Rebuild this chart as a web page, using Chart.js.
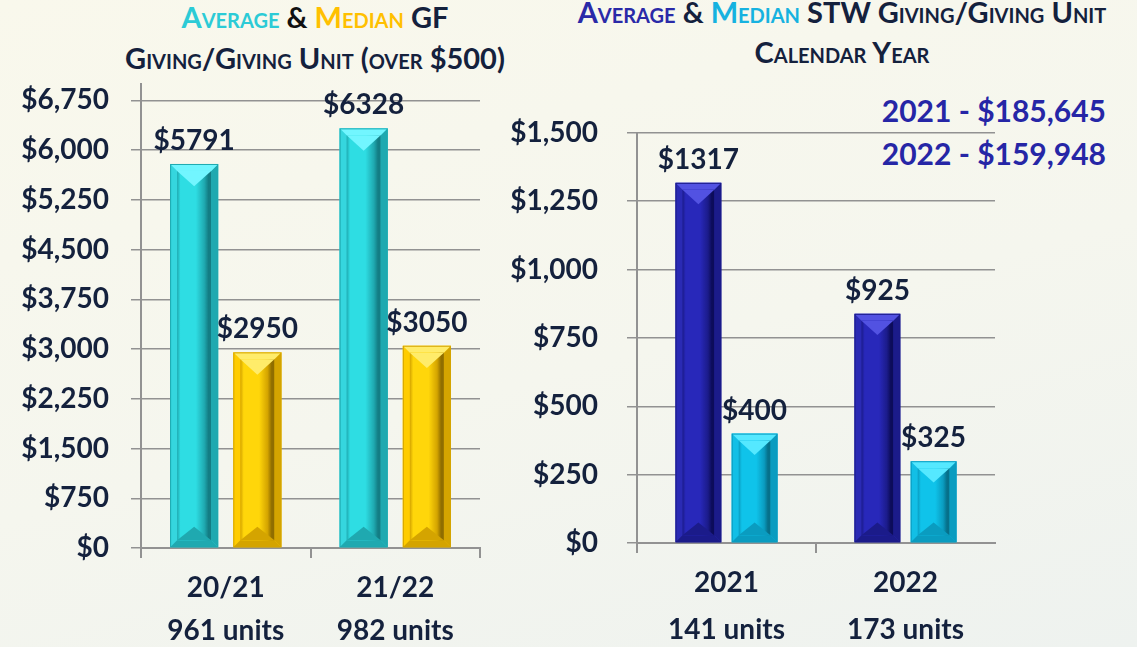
<!DOCTYPE html>
<html>
<head>
<meta charset="utf-8">
<script src="https://cdn.jsdelivr.net/npm/chart.js@4.4.1/dist/chart.umd.min.js"></script>
<style>
  html, body { margin: 0; padding: 0; }
  body {
    width: 1137px; height: 647px; overflow: hidden; position: relative;
    background: linear-gradient(165deg, #f9f8ec 0%, #f5f6ee 55%, #eef2ef 100%);
    font-family: Lato, "Open Sans", sans-serif; color: #14213d;
  }
  .title {
    position: absolute; text-align: center; font-weight: bold;
    font-variant: small-caps; font-size: 29px; white-space: nowrap;
  }
  #title-gf { left: 0; width: 630px; top: -4px; line-height: 41px; }
  #title-stw { left: 547px; width: 590px; top: -8px; line-height: 40px; }
  #totals {
    position: absolute; left: 700px; width: 406px; top: 89px;
    text-align: right; font-weight: bold; font-size: 30px; line-height: 43px; color: #2626a6;
  }
  canvas { position: absolute; }
  #gf-chart { left: 0; top: 45px; }
  #stw-chart { left: 495px; top: 87px; }
</style>
</head>
<body>

<div class="title" id="title-gf">
  <span style="color:#2ccbd6">Average</span> <span style="color:#111">&amp;</span>
  <span style="color:#ffc000">Median</span> GF<br>Giving/Giving Unit (over $500)
</div>
<div class="title" id="title-stw">
  <span style="color:#2a2aa8">Average</span> &amp;
  <span style="color:#16b2e0">Median</span> STW Giving/Giving Unit<br>Calendar Year
</div>
<div id="totals"></div>

<canvas id="gf-chart" width="490" height="602"></canvas>
<canvas id="stw-chart" width="510" height="560"></canvas>

<script>

/* DATA: GF giving per giving unit (fiscal years) */
const gfYears = ['20/21', '21/22'];
const gfUnits = ['961 units', '982 units'];
const gfAverage = [5791, 6328];
const gfMedian = [2950, 3050];
const gfAverageText = ['$5791', '$6328'];
const gfMedianText = ['$2950', '$3050'];
const gfTicks = [0, 750, 1500, 2250, 3000, 3750, 4500, 5250, 6000, 6750];
const gfMax = 7000;

/* DATA: STW giving per giving unit (calendar years) */
const stwYears = ['2021', '2022'];
const stwUnits = ['141 units', '173 units'];
const stwAverage = [1317, 838];
const stwMedian = [400, 299];
const stwAverageText = ['$1317', '$925'];
const stwMedianText = ['$400', '$325'];
const stwTotals = ['2021 - $185,645', '2022 - $159,948'];
const stwTicks = [0, 250, 500, 750, 1000, 1250, 1500];
const stwMax = 1500;

document.getElementById('totals').innerHTML = stwTotals.join('<br>');

const navy = '#14213d';
const gridGray = '#929292';

const shades = {
  teal: { frame: '#35d6de', light: '#72f6ff', mid: '#2edde3', dark: '#137d84', edge: '#1fa9b0' },
  gold: { frame: '#ffcc00', light: '#ffec6a', mid: '#ffd60a', dark: '#8f6d00', edge: '#d4a400' },
  navy: { frame: '#2a2ab4', light: '#5252e2', mid: '#2828ba', dark: '#0c0c5a', edge: '#1b1b8a' },
  sky:  { frame: '#12bfe6', light: '#55e8ff', mid: '#0fc3ea', dark: '#06708a', edge: '#0a9cc0' }
};

function poly(ctx, pts, fill) {
    ctx.beginPath();
    ctx.moveTo(pts[0][0], pts[0][1]);
    for (let k = 1; k < pts.length; k++) ctx.lineTo(pts[k][0], pts[k][1]);
    ctx.closePath();
    ctx.fillStyle = fill;
    ctx.fill();
}

// bevelled bars + value labels, drawn on the bar elements the chart laid out
const bevelPlugin = {
  id: 'bevel',
  afterDatasetsDraw(chart) {
    const ctx = chart.ctx;
    ctx.save();
    chart.data.datasets.forEach((ds, i) => {
      const meta = chart.getDatasetMeta(i);
      const c = ds.shade;
      meta.data.forEach((bar, j) => {
        const x0 = bar.x - bar.width / 2, x1 = bar.x + bar.width / 2;
        const top = bar.y, bottom = bar.base, cx = bar.x;
        const e = 7;
        const iw = x1 - x0 - 2 * e;
        // outer frame sides
        poly(ctx, [[x0, top], [x0 + e, top + e], [x0 + e, bottom - e], [x0, bottom]], c.frame);
        poly(ctx, [[x1, top], [x1 - e, top + e], [x1 - e, bottom - e], [x1, bottom]], c.edge);
        poly(ctx, [[x0, top], [x1, top], [x1 - e, top + e], [x0 + e, top + e]], c.light);
        poly(ctx, [[x0, bottom], [x1, bottom], [x1 - e, bottom - e], [x0 + e, bottom - e]], c.edge);
        // inner panel
        const g = ctx.createLinearGradient(x0 + e, 0, x1 - e, 0);
        g.addColorStop(0, c.edge);
        g.addColorStop(0.1, c.mid);
        g.addColorStop(0.55, c.mid);
        g.addColorStop(0.8, c.edge);
        g.addColorStop(0.92, c.dark);
        g.addColorStop(1, c.dark);
        ctx.fillStyle = g;
        ctx.fillRect(x0 + e, top + e, iw, bottom - top - 2 * e);
        // top notch + bottom notch
        poly(ctx, [[x0 + e, top + e], [x1 - e, top + e], [cx, top + e + iw * 0.45]], c.light);
        poly(ctx, [[x0 + e, bottom - e], [x1 - e, bottom - e], [cx, bottom - e - iw * 0.4]], c.edge);
        ctx.strokeStyle = c.edge;
        ctx.lineWidth = 1;
        ctx.strokeRect(x0 + 0.5, top + 0.5, x1 - x0 - 1, bottom - top - 1);
        // value label
        ctx.fillStyle = navy;
        ctx.font = 'bold 28px Lato, "Open Sans", sans-serif';
        ctx.textAlign = 'center';
        ctx.textBaseline = 'middle';
        ctx.fillText(ds.valueText[j], cx, top - 23);
      });
    });
    ctx.restore();
  }
};

function money(v) {
    return '$' + Number(v).toLocaleString('en-US');
}

function makeChart(id, cfg) {
  const ctx = document.getElementById(id).getContext('2d');
  return new Chart(ctx, {
    type: 'bar',
    data: {
        labels: cfg.years.map((y, i) => [y, cfg.units[i]]),
        datasets: [{
            label: 'Average',
            data: cfg.average,
            valueText: cfg.averageText,
            shade: cfg.avgShade,
            backgroundColor: cfg.avgShade.frame,
            borderWidth: 0,
            barPercentage: cfg.barPct,
            categoryPercentage: cfg.catPct
        }, {
            label: 'Median',
            data: cfg.median,
            valueText: cfg.medianText,
            shade: cfg.medShade,
            backgroundColor: cfg.medShade.frame,
            borderWidth: 0,
            barPercentage: cfg.barPct,
            categoryPercentage: cfg.catPct
        }]
    },
    plugins: [bevelPlugin],
    options: {
        responsive: false,
        animation: false,
        layout: { padding: { top: 0, right: 10, left: 0, bottom: 0 } },
        plugins: {
            legend: { display: false },
            tooltip: { enabled: false }
        },
        scales: {
            x: {
                afterFit: s => { s.height = cfg.xHeight; },
                grid: {
                    drawOnChartArea: false,
                    tickLength: 10,
                    lineWidth: 2,
                    color: c => (c.index === undefined && cfg.hideLastTick) ? 'rgba(0,0,0,0)' : gridGray
                },
                border: { color: gridGray, width: 2 },
                ticks: {
                    color: navy,
                    padding: cfg.xPad,
                    maxRotation: 0,
                    autoSkip: false,
                    font: { family: 'Lato', size: 28, weight: 'bold', lineHeight: cfg.xLine }
                }
            },
            y: {
                min: 0,
                max: cfg.max,
                afterFit: s => { s.width = cfg.yWidth; },
                afterBuildTicks: s => { s.ticks = cfg.ticks.map(v => ({ value: v })); },
                grid: { color: gridGray, lineWidth: 1.5, tickLength: 10 },
                border: { color: gridGray, width: 2 },
                ticks: {
                    autoSkip: false,
                    color: navy,
                    padding: cfg.yPad,
                    callback: v => money(v),
                    font: { family: 'Lato', size: 28, weight: 'bold' }
                }
            }
        }
    }
  });
}

/* LEFT: GF giving */
const gfChart = makeChart('gf-chart', {
    years: gfYears, units: gfUnits,
    average: gfAverage, median: gfMedian,
    averageText: gfAverageText, medianText: gfMedianText,
    avgShade: shades.teal, medShade: shades.gold,
    max: gfMax, ticks: gfTicks,
    barPct: 0.76, catPct: 0.746,
    yWidth: 141, yPad: 22,
    xHeight: 99, xPad: 8, xLine: 1.54,
    hideLastTick: false
});

/* RIGHT: STW giving */
const stwChart = makeChart('stw-chart', {
    years: stwYears, units: stwUnits,
    average: stwAverage, median: stwMedian,
    averageText: stwAverageText, medianText: stwMedianText,
    avgShade: shades.navy, medShade: shades.sky,
    max: stwMax, ticks: stwTicks,
    barPct: 0.814, catPct: 0.628,
    yWidth: 142, yPad: 29,
    xHeight: 104, xPad: 6, xLine: 1.68,
    hideLastTick: true
});

</script>
</body>
</html>
